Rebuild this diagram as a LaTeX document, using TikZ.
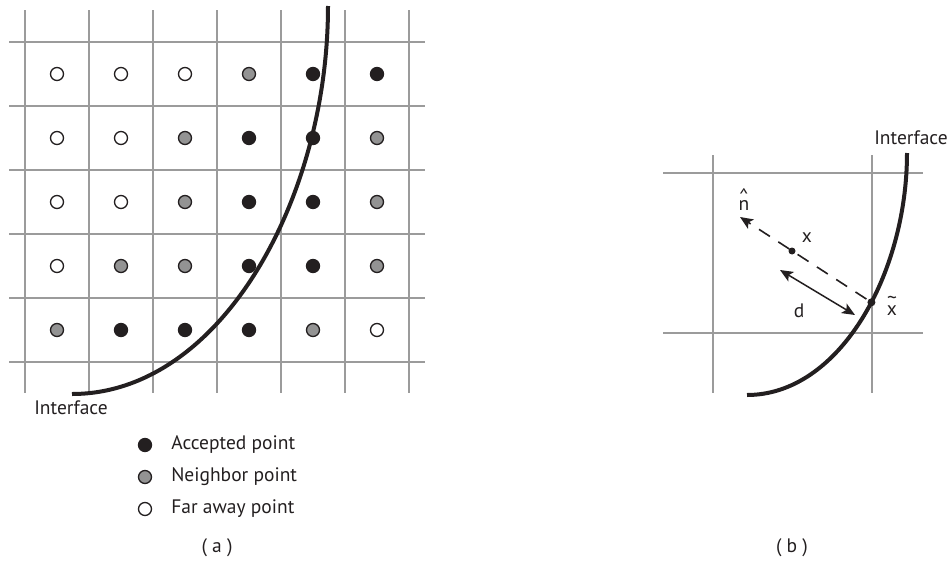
\documentclass[tikz,border=0pt]{standalone}
\usepackage{fontspec}
\setmainfont{PT Sans}
\usetikzlibrary{arrows.meta,positioning}
\definecolor{gridgray}{HTML}{9B9B9B}
\definecolor{dotgray}{HTML}{939393}
\definecolor{ink}{HTML}{231F20}
\tikzstyle{dot} = [draw=ink, shape=circle, minimum size=13pt, inner sep=0pt, line width=1.3pt]
\tikzstyle{acc} = [dot, fill=ink]
\tikzstyle{nbr} = [dot, fill=dotgray]
\tikzstyle{far} = [dot, fill=white]
\tikzstyle{pt} = [shape=circle, fill=ink, minimum size=8pt, inner sep=0pt]
\tikzstyle{gridline} = [gridgray, line width=2pt]
\tikzstyle{interface} = [ink, line width=4pt]
\tikzstyle{lbl} = [text=ink, font=\fontsize{19.5}{22}\selectfont, inner sep=0pt]

\begin{document}
\begin{tikzpicture}[x=1pt, y=-1pt, >={Stealth[length=13pt, width=11pt, inset=3pt]}]
    \useasboundingbox (0,0) rectangle (952,562);
    % (a) grid and points
    \foreach \i in {0,...,6} \draw[gridline] (25+64*\i,10) -- (25+64*\i,393);
    \foreach \j in {0,...,5} \draw[gridline] (9,42+64*\j) -- (425,42+64*\j);
    \foreach \r/\pat in {1/{far,far,far,nbr,acc,acc}, 2/{far,far,nbr,acc,acc,nbr},
        3/{far,far,nbr,acc,acc,nbr}, 4/{far,nbr,nbr,acc,acc,nbr}, 5/{nbr,acc,acc,acc,nbr,far}}
        \foreach \k [count=\c] in \pat
            \node[\k] (p\r\c) at (-7+64*\c, 10+64*\r) {};
    \draw[interface] (72,394) .. controls (220,394) and (328,200) .. (328,6);
    \node[lbl] (ifa) at (71,408) {Interface};
    % legend
    \node[acc] (lacc) at (145,445) {};
    \node[nbr] (lnbr) at (145,477) {};
    \node[far] (lfar) at (145,509) {};
    \node[lbl, right=19pt of lacc] {Accepted point};
    \node[lbl, right=19pt of lnbr] {Neighbor point};
    \node[lbl, right=19pt of lfar] {Far away point};
    \node[lbl] (capa) at (217,548) {( a )};
    % (b) one cell
    \foreach \x in {713,872} \draw[gridline] (\x,155) -- (\x,393);
    \foreach \y in {173,333} \draw[gridline] (663,\y) -- (923,\y);
    \draw[interface] (747,395) .. controls (839.5,395) and (907,273.75) .. (907,153)
        node[pos=0.56, pt] (xt) {};
    \node[lbl] (ifb) at (911,138) {Interface};
    \node[pt, minimum size=7pt] (xp) at (792,251) {};
    \node[lbl] at (807,238) {x};
    \node[lbl, anchor=south] at (892,316) {\shortstack{\textasciitilde\\[-1pt]x}};
    \coordinate (ntip) at (740,217);
    \draw[->, ink, line width=1.6pt, dash pattern=on 13pt off 10pt] (xt) -- (ntip);
    \node[lbl, anchor=south] at (744,211) {\shortstack{\textasciicircum\\[-5pt]n}};
    \coordinate (d1) at (780,270);
    \coordinate (d2) at (855,315);
    \draw[<->, ink, line width=1.5pt] (d1) -- (d2);
    \node[lbl] at (799,311) {d};
    \node[lbl] (capb) at (792,548) {( b )};
\end{tikzpicture}
\end{document}
